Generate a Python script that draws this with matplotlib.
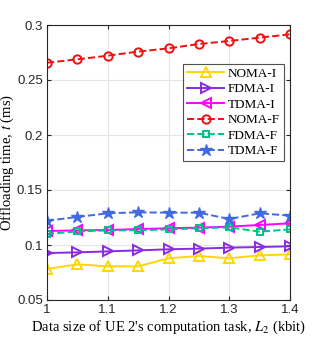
import numpy as np
import matplotlib
matplotlib.use('Agg')
import matplotlib.pyplot as plt

plt.rcParams['mathtext.fontset'] = 'stix'

# data
L2 = [1.0, 1.05, 1.1, 1.15, 1.2, 1.25, 1.3, 1.35, 1.4]
noma_i = [0.0782, 0.0824, 0.0806, 0.0806, 0.0879, 0.0900, 0.0879, 0.0906, 0.0915]
fdma_i = [0.0927, 0.0933, 0.0942, 0.0951, 0.0961, 0.0967, 0.0976, 0.0982, 0.0988]
tdma_i = [0.1127, 0.1133, 0.1136, 0.1145, 0.1152, 0.1158, 0.1167, 0.1182, 0.1197]
noma_f = [0.2657, 0.2688, 0.2721, 0.2758, 0.2788, 0.2827, 0.2855, 0.2885, 0.2915]
fdma_f = [0.1100, 0.1124, 0.1133, 0.1133, 0.1142, 0.1152, 0.1161, 0.1121, 0.1142]
tdma_f = [0.1221, 0.1255, 0.1288, 0.1297, 0.1294, 0.1294, 0.1236, 0.1288, 0.1267]

fig = plt.figure(figsize=(3.2, 3.38), dpi=100)
ax = fig.add_axes([47/320, 1-300/338, 243/320, 275/338])

ax.plot(L2, noma_i, '-', color='#FFD700', marker='^', mfc='none', ms=7, mew=1.4, lw=1.4, label='NOMA-I')
ax.plot(L2, fdma_i, '-', color='#8A2BE2', marker='>', mfc='none', ms=7, mew=1.4, lw=1.4, label='FDMA-I')
ax.plot(L2, tdma_i, '-', color='#FF00FF', marker='<', mfc='none', ms=7, mew=1.4, lw=1.4, label='TDMA-I')
ax.plot(L2, noma_f, '--', color='#EE1111', marker='o', mfc='none', ms=6, mew=1.4, lw=1.4, label='NOMA-F')
ax.plot(L2, fdma_f, '--', color='#00C08A', marker='s', mfc='none', ms=5, mew=1.4, lw=1.4, label='FDMA-F')
ax.plot(L2, tdma_f, '--', color='#4169E1', marker='*', ms=9, lw=1.4, label='TDMA-F')

ax.set_xlim(1, 1.4)
ax.set_ylim(0.05, 0.3)
ax.set_xticks([1, 1.1, 1.2, 1.3, 1.4])
ax.set_xticklabels(['1', '1.1', '1.2', '1.3', '1.4'], family='Liberation Sans')
ax.set_yticks([0.05, 0.1, 0.15, 0.2, 0.25, 0.3])
ax.set_yticklabels(['0.05', '0.1', '0.15', '0.2', '0.25', '0.3'], family='Liberation Sans')
ax.tick_params(direction='in', labelsize=9.5, colors='#262626', top=True, right=True, length=3, pad=3)
ax.grid(True, color='#e6e6e6', lw=0.8)
for s in ax.spines.values():
    s.set_color('#262626')
    s.set_linewidth(0.8)

ax.set_xlabel("Data size of UE 2's computation task, $L_2$ (kbit)", family='Liberation Serif', fontsize=10.5, labelpad=2)
ax.set_ylabel("Offloading time, $t$ (ms)", family='Liberation Serif', fontsize=10.5)
ax.yaxis.set_label_coords(-0.127, 0.5)

leg = ax.legend(loc='upper left', bbox_to_anchor=(0.56, 0.86), fancybox=False, edgecolor='#262626',
                prop={'family': 'Liberation Serif', 'size': 9.5}, handlelength=2.8, borderpad=0.3,
                labelspacing=0.25, handletextpad=0.3, borderaxespad=0)
leg.get_frame().set_linewidth(0.8)

fig.savefig('out.png', dpi=100)
